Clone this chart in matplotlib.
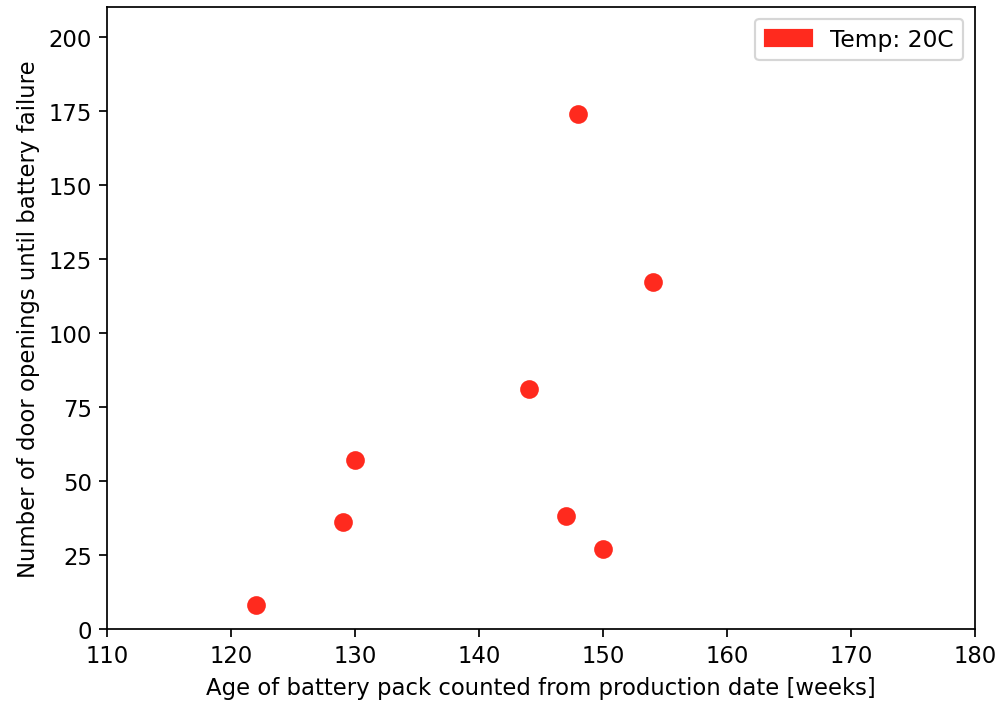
import matplotlib
matplotlib.use('Agg')
import matplotlib.pyplot as plt
import matplotlib.patches as mpatches

# Data
age_weeks = [122, 129, 130, 144, 147, 148, 150, 154]
door_openings = [8, 36, 57, 81, 38, 174, 27, 117]
point_color = '#ff2a1e'

plt.rcParams['font.size'] = 10.5

fig = plt.figure(figsize=(6.4, 4.512))
ax = fig.add_axes([0.107, 0.1064, 0.868, 0.8823])

ax.scatter(age_weeks, door_openings, s=58, color=point_color)

ax.set_xlim(110, 180)
ax.set_ylim(0, 210)
ax.set_xlabel('Age of battery pack counted from production date [weeks]')
ax.set_ylabel('Number of door openings until battery failure')

# Legend uses a plain colour patch
patch = mpatches.Patch(color=point_color, label='Temp: 20C')
ax.legend(handles=[patch], loc='upper right', fontsize=10.8)

plt.savefig('out.png', dpi=156.25)
